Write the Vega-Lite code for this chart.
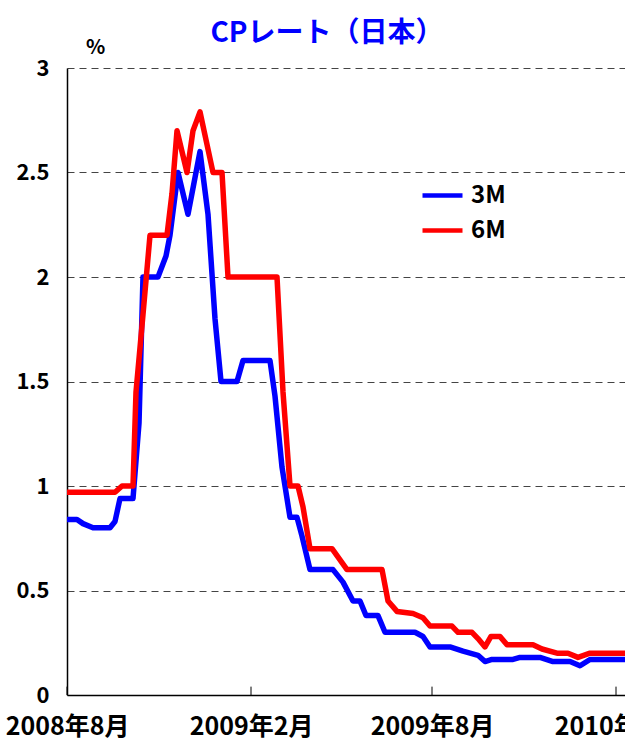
{
  "$schema": "https://vega.github.io/schema/vega-lite/v6.json",
  "autosize": "none",
  "padding": {"left": 67, "top": 68, "right": 0, "bottom": 53},
  "width": 558,
  "height": 627,
  "background": "white",
  "config": {
    "font": "Noto Sans CJK JP",
    "view": {"stroke": null}
  },
  "title": {
    "text": "CPレート（日本）",
    "color": "#0000FF",
    "fontSize": 28,
    "fontWeight": "bold",
    "anchor": "middle",
    "dx": -19,
    "dy": 15
  },
  "layer": [
    {
      "data": {
        "values": [
          {"date": "2008-08-01", "series": "3M", "value": 0.84},
          {"date": "2008-08-11", "series": "3M", "value": 0.84},
          {"date": "2008-08-17", "series": "3M", "value": 0.82},
          {"date": "2008-08-27", "series": "3M", "value": 0.80},
          {"date": "2008-09-13", "series": "3M", "value": 0.80},
          {"date": "2008-09-18", "series": "3M", "value": 0.83},
          {"date": "2008-09-23", "series": "3M", "value": 0.94},
          {"date": "2008-10-06", "series": "3M", "value": 0.94},
          {"date": "2008-10-12", "series": "3M", "value": 1.30},
          {"date": "2008-10-16", "series": "3M", "value": 2.00},
          {"date": "2008-10-31", "series": "3M", "value": 2.00},
          {"date": "2008-11-08", "series": "3M", "value": 2.10},
          {"date": "2008-11-12", "series": "3M", "value": 2.20},
          {"date": "2008-11-20", "series": "3M", "value": 2.50},
          {"date": "2008-11-30", "series": "3M", "value": 2.30},
          {"date": "2008-12-12", "series": "3M", "value": 2.60},
          {"date": "2008-12-20", "series": "3M", "value": 2.30},
          {"date": "2008-12-27", "series": "3M", "value": 1.80},
          {"date": "2009-01-02", "series": "3M", "value": 1.50},
          {"date": "2009-01-18", "series": "3M", "value": 1.50},
          {"date": "2009-01-24", "series": "3M", "value": 1.60},
          {"date": "2009-02-20", "series": "3M", "value": 1.60},
          {"date": "2009-02-25", "series": "3M", "value": 1.43},
          {"date": "2009-03-04", "series": "3M", "value": 1.09},
          {"date": "2009-03-12", "series": "3M", "value": 0.85},
          {"date": "2009-03-19", "series": "3M", "value": 0.85},
          {"date": "2009-03-24", "series": "3M", "value": 0.76},
          {"date": "2009-04-01", "series": "3M", "value": 0.60},
          {"date": "2009-04-24", "series": "3M", "value": 0.60},
          {"date": "2009-05-04", "series": "3M", "value": 0.54},
          {"date": "2009-05-14", "series": "3M", "value": 0.45},
          {"date": "2009-05-21", "series": "3M", "value": 0.45},
          {"date": "2009-05-27", "series": "3M", "value": 0.38},
          {"date": "2009-06-08", "series": "3M", "value": 0.38},
          {"date": "2009-06-15", "series": "3M", "value": 0.30},
          {"date": "2009-07-15", "series": "3M", "value": 0.30},
          {"date": "2009-07-23", "series": "3M", "value": 0.28},
          {"date": "2009-07-30", "series": "3M", "value": 0.23},
          {"date": "2009-08-19", "series": "3M", "value": 0.23},
          {"date": "2009-09-01", "series": "3M", "value": 0.21},
          {"date": "2009-09-16", "series": "3M", "value": 0.19},
          {"date": "2009-09-23", "series": "3M", "value": 0.16},
          {"date": "2009-09-30", "series": "3M", "value": 0.17},
          {"date": "2009-10-21", "series": "3M", "value": 0.17},
          {"date": "2009-10-28", "series": "3M", "value": 0.18},
          {"date": "2009-11-17", "series": "3M", "value": 0.18},
          {"date": "2009-11-30", "series": "3M", "value": 0.16},
          {"date": "2009-12-17", "series": "3M", "value": 0.16},
          {"date": "2009-12-27", "series": "3M", "value": 0.14},
          {"date": "2010-01-06", "series": "3M", "value": 0.17},
          {"date": "2010-02-15", "series": "3M", "value": 0.17},
          {"date": "2008-08-01", "series": "6M", "value": 0.97},
          {"date": "2008-09-18", "series": "6M", "value": 0.97},
          {"date": "2008-09-25", "series": "6M", "value": 1.00},
          {"date": "2008-10-06", "series": "6M", "value": 1.00},
          {"date": "2008-10-09", "series": "6M", "value": 1.45},
          {"date": "2008-10-16", "series": "6M", "value": 1.82},
          {"date": "2008-10-23", "series": "6M", "value": 2.20},
          {"date": "2008-11-09", "series": "6M", "value": 2.20},
          {"date": "2008-11-14", "series": "6M", "value": 2.40},
          {"date": "2008-11-19", "series": "6M", "value": 2.70},
          {"date": "2008-11-29", "series": "6M", "value": 2.50},
          {"date": "2008-12-05", "series": "6M", "value": 2.70},
          {"date": "2008-12-12", "series": "6M", "value": 2.79},
          {"date": "2008-12-25", "series": "6M", "value": 2.50},
          {"date": "2009-01-03", "series": "6M", "value": 2.50},
          {"date": "2009-01-09", "series": "6M", "value": 2.00},
          {"date": "2009-02-27", "series": "6M", "value": 2.00},
          {"date": "2009-03-05", "series": "6M", "value": 1.45},
          {"date": "2009-03-12", "series": "6M", "value": 1.00},
          {"date": "2009-03-20", "series": "6M", "value": 1.00},
          {"date": "2009-03-25", "series": "6M", "value": 0.90},
          {"date": "2009-04-01", "series": "6M", "value": 0.70},
          {"date": "2009-04-23", "series": "6M", "value": 0.70},
          {"date": "2009-05-08", "series": "6M", "value": 0.60},
          {"date": "2009-06-12", "series": "6M", "value": 0.60},
          {"date": "2009-06-18", "series": "6M", "value": 0.45},
          {"date": "2009-06-27", "series": "6M", "value": 0.40},
          {"date": "2009-07-13", "series": "6M", "value": 0.39},
          {"date": "2009-07-23", "series": "6M", "value": 0.37},
          {"date": "2009-07-30", "series": "6M", "value": 0.33},
          {"date": "2009-08-21", "series": "6M", "value": 0.33},
          {"date": "2009-08-27", "series": "6M", "value": 0.30},
          {"date": "2009-09-10", "series": "6M", "value": 0.30},
          {"date": "2009-09-16", "series": "6M", "value": 0.27},
          {"date": "2009-09-23", "series": "6M", "value": 0.23},
          {"date": "2009-09-29", "series": "6M", "value": 0.28},
          {"date": "2009-10-08", "series": "6M", "value": 0.28},
          {"date": "2009-10-15", "series": "6M", "value": 0.24},
          {"date": "2009-11-10", "series": "6M", "value": 0.24},
          {"date": "2009-11-19", "series": "6M", "value": 0.22},
          {"date": "2009-12-04", "series": "6M", "value": 0.20},
          {"date": "2009-12-15", "series": "6M", "value": 0.20},
          {"date": "2009-12-25", "series": "6M", "value": 0.18},
          {"date": "2010-01-06", "series": "6M", "value": 0.20},
          {"date": "2010-02-15", "series": "6M", "value": 0.20}
        ]
      },
      "mark": {"type": "line", "strokeWidth": 5.5, "clip": true, "strokeJoin": "round"},
      "encoding": {
        "x": {
          "field": "date",
          "type": "temporal",
          "scale": {"type": "utc", "domain": [{"year": 2008, "month": 8, "date": 1, "utc": true}, {"year": 2010, "month": 2, "date": 10, "utc": true}], "nice": false},
          "axis": {
            "values": [
              {"year": 2008, "month": 8, "date": 1, "utc": true},
              {"year": 2009, "month": 2, "date": 1, "utc": true},
              {"year": 2009, "month": 8, "date": 1, "utc": true},
              {"year": 2010, "month": 2, "date": 1, "utc": true}
            ],
            "labelExpr": "utcFormat(datum.value, '%Y年%-m月')",
            "ticks": false,
            "grid": false,
            "domainColor": "black",
            "domainWidth": 1.5,
            "labelFontSize": 25,
            "labelFontWeight": "bold",
            "labelColor": "black",
            "labelPadding": 19,
            "labelOverlap": false,
            "labelFlush": false,
            "labelBound": false,
            "title": null,
            "zindex": 1
          }
        },
        "y": {
          "field": "value",
          "type": "quantitative",
          "scale": {"domain": [0, 3], "nice": false},
          "axis": {
            "values": [0, 0.5, 1, 1.5, 2, 2.5, 3],
            "format": "~g",
            "ticks": false,
            "domainColor": "black",
            "domainWidth": 1.5,
            "gridDash": [7, 5],
            "gridColor": "#444",
            "gridWidth": 1,
            "labelFontSize": 22,
            "labelFontWeight": "bold",
            "labelColor": "black",
            "labelPadding": 18,
            "title": "%",
            "titleAngle": 0,
            "titleX": 28,
            "titleY": -21,
            "titleAlign": "center",
            "titleBaseline": "middle",
            "titleFontSize": 20,
            "titleFontWeight": "bold",
            "titleColor": "black"
          }
        },
        "color": {
          "field": "series",
          "type": "nominal",
          "scale": {"domain": ["3M", "6M"], "range": ["#0000FF", "#FF0000"]},
          "legend": {
            "orient": "none",
            "legendX": 353,
            "legendY": 105,
            "title": null,
            "symbolType": "stroke",
            "symbolSize": 1600,
            "symbolStrokeWidth": 4.5,
            "labelFontSize": 24,
            "labelFontWeight": "bold",
            "labelColor": "black",
            "labelOffset": 6,
            "rowPadding": 0,
            "padding": 0
          }
        }
      }
    },
    {
      "data": {
        "values": [
          {"date": "2008-08-01"},
          {"date": "2009-02-01"},
          {"date": "2009-08-01"},
          {"date": "2010-02-01"}
        ]
      },
      "mark": {"type": "rule", "color": "black", "strokeWidth": 1},
      "encoding": {
        "x": {"field": "date", "type": "temporal"},
        "y": {"datum": 0},
        "y2": {"datum": 0.04}
      }
    }
  ]
}
